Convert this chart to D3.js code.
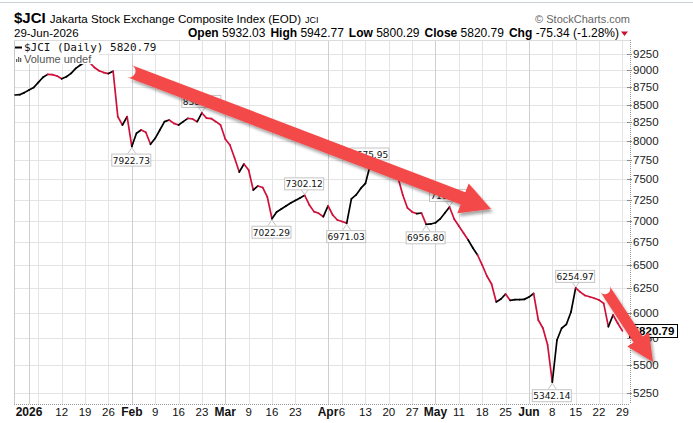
<!DOCTYPE html>
<html><head><meta charset="utf-8">
<script src="https://cdn.jsdelivr.net/npm/d3@7/dist/d3.min.js"></script>
<style>body{margin:0;background:#fff}svg{display:block}</style>
</head><body>
<svg id="c" width="693" height="423"></svg>
<script>
// ---------------- DATA ----------------
const tradingDays = [
 ["2025-12",[29,30,31]],
 ["2026-01",[1,2,5,6,7,8,9,12,13,14,15,16,19,20,21,22,23,26,27,28,29,30]],
 ["2026-02",[2,3,4,5,6,9,10,11,12,13,16,17,18,19,20,23,24,25,26,27]],
 ["2026-03",[2,3,4,5,6,9,10,11,12,13,16,17,18,19,20,23,24,25,26,27,30,31]],
 ["2026-04",[1,2,3,6,7,8,9,10,13,14,15,16,17,20,21,22,23,24,27,28,29,30]],
 ["2026-05",[1,4,5,6,7,8,11,12,13,14,15,18,19,20,21,22,25,26,27,28,29]],
 ["2026-06",[1,2,3,4,5,8,9,10,11,12,15,16,17,18,19,22,23,24,25,26,29]]
];
const closes = [
 8637,8641,8671,8710,8745,8822,8897,8940,8936,8915,
 8874,8905,8955,9030,9081,9127,9118,9043,8994,8967,
 8952,8987,8330,8214,8330,7922.73,8101,8146,8115,7953,
 8033,8146,8260,8283,8237,8214,8260,8306,8297,8260,
 8381.09,8310,8303,8260,8214,8025,7944,7773,7593,7696,
 7619,7368,7418,7399,7283,7022.29,7102,7138,7174,7210,
 7240,7271,7302.12,7186,7106,7086,7046,7174,7066,7007,
 6990,6971.03,7260,7307,7387,7449,7675.95,7650,7619,7593,
 7567,7543,7518,7307,7150,7102,7083,7090,6956.80,6961,
 6975,7020,7090,7162.07,7019,6937,6857,6777,6687,6609,
 6499,6381,6296,6110,6140,6191,6125,6133,6134,6136,
 6160,6197,5928,5847,5685,5342.14,5733,5847,5884,6008,
 6254.97,6211,6176,6163,6147,6130,6095,5863,5978,5896.13,
 5820.79
];
// colour of each day's segment (k = black / up day, r = red / down day), from day 2 on
const segColors = "kkkkkkkrrr"+"kkkkkrrrrr"+"krrkrkkrrk"+"kkkrrkkrrk"+"rrrrrrrrkr"+"rkrrrkkkkk"+"kkrrrrkrrr"+"rkkkkkrrrr"+"rrrrrrkrkk"+"kkkrrrrkkr"+"rrrkkrkkkk"+"krrrrkkkkk"+"rrrrrrrkrr";
const yTicks = [5250,5500,5750,6000,6250,6500,6750,7000,7250,7500,7750,8000,8250,8500,8750,9000,9250];
const xTickDates  = ["2026-01-01","2026-01-12","2026-01-19","2026-01-26","2026-02-02","2026-02-09","2026-02-16","2026-02-23","2026-03-02","2026-03-09","2026-03-16","2026-03-23","2026-04-01","2026-04-06","2026-04-13","2026-04-20","2026-04-27","2026-05-04","2026-05-11","2026-05-18","2026-05-25","2026-06-01","2026-06-08","2026-06-15","2026-06-22","2026-06-29"];
const xTickLabels = ["2026","12","19","26","Feb","9","16","23","Mar","9","16","23","Apr","6","13","20","27","May","11","18","25","Jun","8","15","22","29"];
const extraGridDates = ["2026-01-05"];
const monthStartDates = ["2026-01-01","2026-02-02","2026-03-02","2026-04-01","2026-05-04","2026-06-01"];
const annotDates = ["2026-02-02","2026-02-23","2026-03-16","2026-03-25","2026-04-07","2026-04-14","2026-04-30","2026-05-07","2026-06-08","2026-06-15"];
const annotSide  = ["below","above","below","above","below","above","below","above","below","above"];
const header = {sym:"$JCI", name:"Jakarta Stock Exchange Composite Index (EOD)", exch:"JCI", date:"29-Jun-2026",
  open:"5932.03", high:"5942.77", low:"5800.29", close:"5820.79", chg:"-75.34 (-1.28%)"};

// ---------------- SETUP ----------------
const dates = [];
tradingDays.forEach(([m,ds]) => ds.forEach(d => dates.push(m + "-" + String(d).padStart(2,"0"))));
const idx = new Map(dates.map((d,i)=>[d,i]));
const W=693,H=423;
const L=14, R=630, T=40, B=404;
const x = d3.scaleLinear().domain([0,131.63]).range([15,630]);
const y = d3.scaleLog().domain([5151,9469]).range([B,T]);
const svg = d3.select("#c");
const defs = svg.append("defs");
const f = defs.append("filter").attr("id","sh").attr("x","-20%").attr("y","-20%").attr("width","140%").attr("height","140%");
f.append("feDropShadow").attr("dx",2).attr("dy",3).attr("stdDeviation",1.8).attr("flood-color","#000").attr("flood-opacity",0.35);

svg.append("rect").attr("width",W).attr("height",H).attr("fill","#fff");
svg.append("line").attr("x1",0).attr("x2",W).attr("y1",2.5).attr("y2",2.5).attr("stroke","#c9d0d8");

// header
const ft = "Arial, 'Liberation Sans', sans-serif";
const h1 = svg.append("text").attr("x",14).attr("y",23).attr("font-family",ft).attr("fill","#000");
h1.append("tspan").attr("font-weight","bold").attr("font-size",15).text(header.sym);
h1.append("tspan").attr("font-size",11.6).attr("dx",4).text(header.name);
h1.append("tspan").attr("font-size",9).attr("dx",4).text(header.exch);
svg.append("text").attr("x",630).attr("y",23).attr("text-anchor","end").attr("font-family",ft)
  .attr("font-size",11).attr("fill","#666").text("\u00A9 StockCharts.com");
svg.append("text").attr("x",14).attr("y",37).attr("font-family",ft).attr("font-size",11.5).text(header.date);
const h2 = svg.append("text").attr("x",619).attr("y",37).attr("text-anchor","end").attr("font-family",ft).attr("font-size",12);
[["Open",header.open],["High",header.high],["Low",header.low],["Close",header.close],["Chg",header.chg]].forEach(([k,v],i)=>{
  h2.append("tspan").attr("font-weight","bold").attr("dx",i?5:0).text(k+" ");
  h2.append("tspan").text(v);
});
svg.append("path").attr("d","M621,31.5 L628,31.5 L624.5,36 Z").attr("fill","#c8102e");

// gridlines
const g = svg.append("g");
yTicks.forEach(v=>{
  g.append("line").attr("x1",L).attr("x2",R).attr("y1",Math.round(y(v))+0.5).attr("y2",Math.round(y(v))+0.5).attr("stroke","#e4e4e4");
});
const gridAll = Array.from(new Set(xTickDates.concat(extraGridDates)));
gridAll.forEach(d=>{
  const xx = Math.round(x(idx.get(d)))+0.5;
  const isM = monthStartDates.includes(d);
  g.append("line").attr("x1",xx).attr("x2",xx).attr("y1",T).attr("y2",B).attr("stroke",isM?"#cfcfcf":"#e4e4e4");
});
// frame
svg.append("line").attr("x1",L+0.5).attr("x2",L+0.5).attr("y1",T).attr("y2",B).attr("stroke","#c8c8c8");
svg.append("line").attr("x1",L).attr("x2",R).attr("y1",T+0.5).attr("y2",T+0.5).attr("stroke","#dcdcdc");
svg.append("line").attr("x1",L).attr("x2",R).attr("y1",B+0.5).attr("y2",B+0.5).attr("stroke","#999").attr("stroke-dasharray","1,1");
svg.append("line").attr("x1",R+0.5).attr("x2",R+0.5).attr("y1",T).attr("y2",B).attr("stroke","#999").attr("stroke-dasharray","1,1");

// y axis labels
yTicks.forEach(v=>{
  const yy = y(v);
  svg.append("line").attr("x1",R-3).attr("x2",R+2).attr("y1",Math.round(yy)+0.5).attr("y2",Math.round(yy)+0.5).attr("stroke","#888");
  svg.append("text").attr("x",R+3).attr("y",yy+4).attr("font-family",ft).attr("font-size",11.5).attr("fill","#222").text(v);
});
// x axis labels
xTickDates.forEach((d,i)=>{
  const lab = xTickLabels[i];
  const bold = isNaN(+lab) || lab.length===4;
  svg.append("text").attr("x",x(idx.get(d))).attr("y",416).attr("text-anchor","middle")
    .attr("font-family",ft).attr("font-size",bold?12:11.5).attr("font-weight",bold?"bold":"normal").attr("fill","#111").text(lab);
});

// price line, segment colours per day
const line = d3.line().x(d=>x(d[0])).y(d=>y(d[1]));
const lg = svg.append("g").attr("fill","none").attr("stroke-width",1.7).attr("stroke-linecap","round").attr("stroke-linejoin","round");
for(let i=1;i<closes.length;i++){
  lg.append("path").attr("d",line([[i-1,closes[i-1]],[i,closes[i]]]))
    .attr("stroke", segColors[i-1]==="k" ? "#000" : "#d0103a");
}

// annotations
const ag = svg.append("g");
annotDates.forEach((d,k)=>{
  const i = idx.get(d), v = closes[i];
  const px = x(i), py = y(v);
  const txt = v.toFixed(2);
  const bw = 39, bh = 12;
  const below = annotSide[k]==="below";
  const bx = px - bw/2 - 1;
  const by = below ? py + 7 : py - 6 - bh;
  const ey = below ? by : by + bh;
  ag.append("path").attr("d", `M${px-4},${ey} L${px},${below?py+1:py-1} L${px+4},${ey}`).attr("fill","#fff").attr("stroke","#c4c4c4");
  ag.append("rect").attr("x",bx+0.5).attr("y",by+0.5).attr("width",bw).attr("height",bh).attr("fill","#fff").attr("stroke","#c4c4c4");
  ag.append("text").attr("x",bx+bw/2+0.5).attr("y",by+10).attr("text-anchor","middle").attr("font-family","'DejaVu Sans', Verdana, sans-serif")
    .attr("font-size",9).attr("fill","#111").text(txt);
});

// legend
svg.append("rect").attr("x",L+1).attr("y",T+1).attr("width",143).attr("height",12).attr("fill","#fff");
svg.append("rect").attr("x",L+1).attr("y",T+13).attr("width",84).attr("height",11).attr("fill","#fff");
svg.append("line").attr("x1",15).attr("x2",22).attr("y1",47.5).attr("y2",47.5).attr("stroke","#000").attr("stroke-width",2);
svg.append("text").attr("x",24).attr("y",51).attr("font-family","'DejaVu Sans Mono', monospace").attr("font-size",11).attr("fill","#111")
  .text("$JCI (Daily) " + closes[closes.length-1].toFixed(2));
[[16,3],[18,5],[20,4]].forEach(([bx,bh])=>svg.append("rect").attr("x",bx).attr("y",62-bh).attr("width",1.3).attr("height",bh).attr("fill","#666"));
svg.append("text").attr("x",24).attr("y",62.5).attr("font-family",ft).attr("font-size",11).attr("fill","#555").text("Volume undef");

// last price box
const lastY = y(closes[closes.length-1]);
svg.append("rect").attr("x",629.5).attr("y",Math.round(lastY)-6.5).attr("width",48).attr("height",13).attr("fill","#fff").attr("stroke","#000");
svg.append("text").attr("x",653.5).attr("y",Math.round(lastY)+4).attr("text-anchor","middle").attr("font-family",ft).attr("font-size",11.5)
  .attr("font-weight","bold").text(closes[closes.length-1].toFixed(2));

// arrows
function arrow(x1,y1,x2,y2,w,hl,hh){
  const dx=x2-x1, dy=y2-y1, len=Math.hypot(dx,dy), ux=dx/len, uy=dy/len, nx=-uy, ny=ux;
  const bx=x2-ux*hl, by=y2-uy*hl, r=w/2;
  const p = [
    [x1+nx*r,y1+ny*r],[bx+nx*r,by+ny*r],[bx+nx*hh,by+ny*hh],[x2,y2],[bx-nx*hh,by-ny*hh],[bx-nx*r,by-ny*r],[x1-nx*r,y1-ny*r]
  ];
  let d = "M"+p.map(q=>q[0].toFixed(1)+","+q[1].toFixed(1)).join(" L");
  d += ` A${r},${r} 0 0 1 ${p[0][0].toFixed(1)},${p[0][1].toFixed(1)} Z`;
  svg.append("path").attr("d",d).attr("fill","#f44848").attr("filter","url(#sh)");
}
arrow(129,71,491,209,13,30,16);
arrow(605,289,653,362,11,27,13);
</script>
</body></html>
